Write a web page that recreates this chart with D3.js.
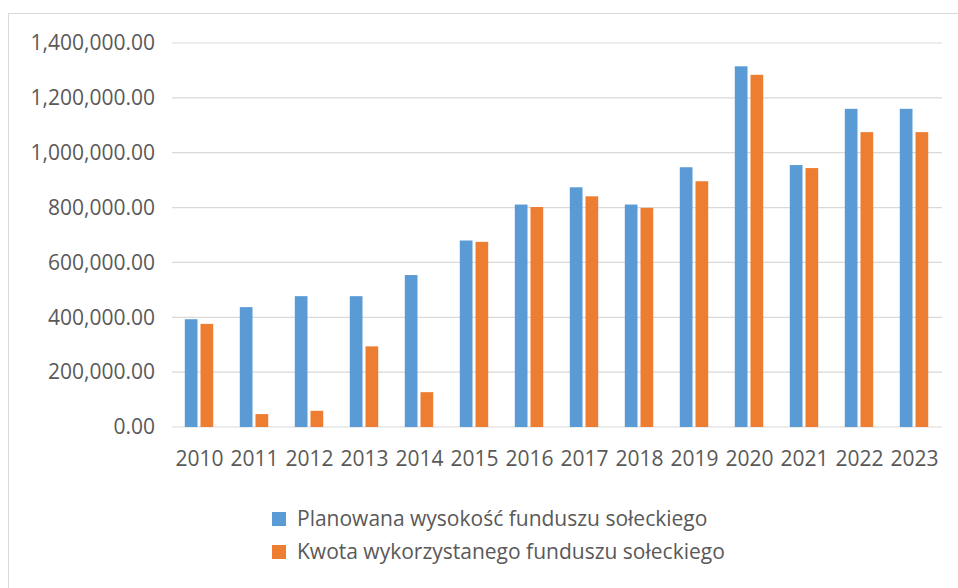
<!DOCTYPE html>
<html><head><meta charset="utf-8">
<script src="https://cdn.jsdelivr.net/npm/d3@7"></script>
<style>body{margin:0;background:#fff}svg text{font-family:"Open Sans",sans-serif;fill:#595959}</style>
</head><body><svg id="c" width="958" height="588"></svg>
<script>
const years = ["2010","2011","2012","2013","2014","2015","2016","2017","2018","2019","2020","2021","2022","2023"];
const planned = [393000,437000,477000,477000,554000,680000,811000,874000,811000,947000,1315000,955000,1160000,1160000];
const used = [376000,47000,59000,294000,127000,675000,802000,841000,799000,896000,1284000,944000,1075000,1075000];
const yTicks = [0,200000,400000,600000,800000,1000000,1200000,1400000];
const seriesNames = ["Planowana wysokość funduszu sołeckiego","Kwota wykorzystanego funduszu sołeckiego"];
const colors = ["#5B9BD5","#ED7D31"];

const svg = d3.select("#c");
svg.append("rect").attr("x",8.5).attr("y",13.5).attr("width",960).attr("height",600)
  .attr("fill","#fff").attr("stroke","#d9d9d9");

const x = d3.scaleBand().domain(years).range([172,942]);
const y = d3.scaleLinear().domain([0,1400000]).range([427,43]);
const fmt = d3.format(",.2f");

const g = svg.append("g");
g.selectAll("line.grid").data(yTicks).join("line")
  .attr("x1",172).attr("x2",942).attr("y1",d=>y(d)).attr("y2",d=>y(d))
  .attr("stroke","#d9d9d9").attr("stroke-width",1.2);
g.selectAll("text.yl").data(yTicks).join("text")
  .attr("x",155).attr("y",d=>y(d)).attr("dy","0.35em").attr("text-anchor","end")
  .attr("font-size",21).text(d=>fmt(d));

const bw = 12.7, gap = 3;
const data = [planned, used];
data.forEach((vals,si)=>{
  g.selectAll("rect.s"+si).data(vals).join("rect")
    .attr("x",(d,i)=>x(years[i]) + x.bandwidth()/2 - 0.5 + (si===0 ? -(bw+gap/2) : gap/2))
    .attr("width",bw)
    .attr("y",d=>y(d)).attr("height",d=>y(0)-y(d))
    .attr("fill",colors[si]);
});

g.selectAll("text.xl").data(years).join("text")
  .attr("x",d=>x(d)+x.bandwidth()/2).attr("y",466).attr("text-anchor","middle")
  .attr("font-size",21).text(d=>d);

const leg = g.append("g");
seriesNames.forEach((n,i)=>{
  leg.append("rect").attr("x",272).attr("y",512+i*33).attr("width",14).attr("height",14).attr("fill",colors[i]);
  leg.append("text").attr("x",297).attr("y",519+i*33).attr("dy","0.35em").attr("font-size",21).text(n);
});
</script></body></html>
